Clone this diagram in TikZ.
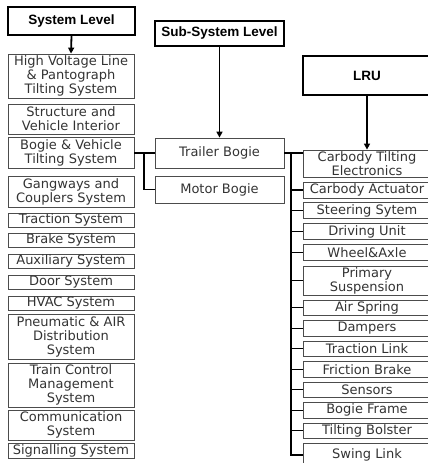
\documentclass[tikz,border=0pt]{standalone}
\usepackage{fontspec}
\setmainfont{DejaVu Sans}
\newfontfamily\headfont{Liberation Sans}
\usetikzlibrary{arrows.meta}
\tikzset{
  unit/.style={draw=black!70,line width=0.8pt,text=black!80,inner sep=0pt,align=center,font=\fontsize{13}{14}\selectfont},
  leftunit/.style={unit,minimum width=126pt},
  rightunit/.style={unit,minimum width=128pt},
  midunit/.style={unit,minimum width=129pt},
  head/.style={draw,line width=1.8pt,inner sep=0pt,font=\headfont\bfseries\fontsize{13.5}{15}\selectfont},
  link/.style={line width=1.2pt},
  down/.style={line width=1.8pt,-{Triangle[length=6pt,width=6pt]}}
}
\begin{document}
\begin{tikzpicture}[x=1pt,y=-1pt]
  \useasboundingbox (0,0) rectangle (428,463);

  % Level headers
  \node[head,minimum width=127pt,minimum height=28pt] (sys) at (71.5,21) {System Level};
  \node[head,minimum width=129pt,minimum height=25pt] (sub) at (219.5,33.5) {Sub-System Level};
  \node[head,minimum width=128pt,minimum height=39pt] (lru) at (367,75.5) {LRU};

  % System level
  \node[leftunit,minimum height=44pt] (hv) at (71,76) {High Voltage Line\\\& Pantograph\\Tilting System};
  \node[leftunit,minimum height=30pt] (struct) at (71,119) {Structure and\\Vehicle Interior};
  \node[leftunit,minimum height=31pt] (bogie) at (71,153) {Bogie \& Vehicle\\Tilting System};
  \node[leftunit,minimum height=31pt] (gang) at (71,191.5) {Gangways and\\Couplers System};
  \node[leftunit,minimum height=14pt] (tract) at (71,220) {Traction System};
  \node[leftunit,minimum height=14pt] (brake) at (71,240) {Brake System};
  \node[leftunit,minimum height=14pt] (aux) at (71,261) {Auxiliary System};
  \node[leftunit,minimum height=14pt] (door) at (71,282) {Door System};
  \node[leftunit,minimum height=14pt] (hvac) at (71,303) {HVAC System};
  \node[leftunit,minimum height=45pt] (pneu) at (71,336.5) {Pneumatic \& AIR\\Distribution\\System};
  \node[leftunit,minimum height=44pt] (tcms) at (71,385) {Train Control\\Management\\System};
  \node[leftunit,minimum height=30pt] (comm) at (71,425) {Communication\\System};
  \node[leftunit,minimum height=15pt] (sig) at (71,450.5) {Signalling System};

  % Sub-system level
  \node[midunit,minimum height=30pt] (trailer) at (219.5,153) {Trailer Bogie};
  \node[midunit,minimum height=27pt] (motor) at (219.5,189.5) {Motor Bogie};

  % LRU
  \node[rightunit,minimum height=27pt] (cte) at (367,163.5) {Carbody Tilting\\Electronics};
  \node[rightunit,minimum height=16pt] (act) at (367,190) {Carbody Actuator};
  \node[rightunit,minimum height=15.5pt] (steer) at (367,210.5) {Steering Sytem};
  \node[rightunit,minimum height=15.5pt] (drive) at (367,231.5) {Driving Unit};
  \node[rightunit,minimum height=15.5pt] (wheel) at (367,252.5) {Wheel\&Axle};
  \node[rightunit,minimum height=29pt] (prim) at (367,280.5) {Primary\\Suspension};
  \node[rightunit,minimum height=15.5pt] (air) at (367,307.75) {Air Spring};
  \node[rightunit,minimum height=15.5pt] (damp) at (367,328.25) {Dampers};
  \node[rightunit,minimum height=15.5pt] (tlink) at (367,348.75) {Traction Link};
  \node[rightunit,minimum height=15.5pt] (fric) at (367,369.25) {Friction Brake};
  \node[rightunit,minimum height=15.5pt] (sens) at (367,389.75) {Sensors};
  \node[rightunit,minimum height=15.5pt] (frame) at (367,410.25) {Bogie Frame};
  \node[rightunit,minimum height=15.5pt] (bolster) at (367,430.75) {Tilting Bolster};
  \node[rightunit,minimum height=24pt] (swing) at (367,455) {Swing Link};

  % Arrows
  \draw[down] (sys.south) -- (hv.north);
  \draw[down] (sub.south) -- (trailer.north);
  \draw[down] (lru.south) -- (cte.north);

  % Connectors
  \coordinate (lj) at (144,153);
  \coordinate (rj) at (291,153);
  \draw[link] (bogie.east) -- (trailer.west);
  \draw[link] (lj) |- (motor.west);
  \draw[link] (trailer.east) -- (trailer.east -| cte.west);
  \draw[link] (rj) |- (swing.west);
  \foreach \n in {act,steer,drive,wheel,prim,air,damp,tlink,fric,sens,frame,bolster}
    \draw[link] (\n.west) -- (\n.west -| rj);
\end{tikzpicture}
\end{document}
